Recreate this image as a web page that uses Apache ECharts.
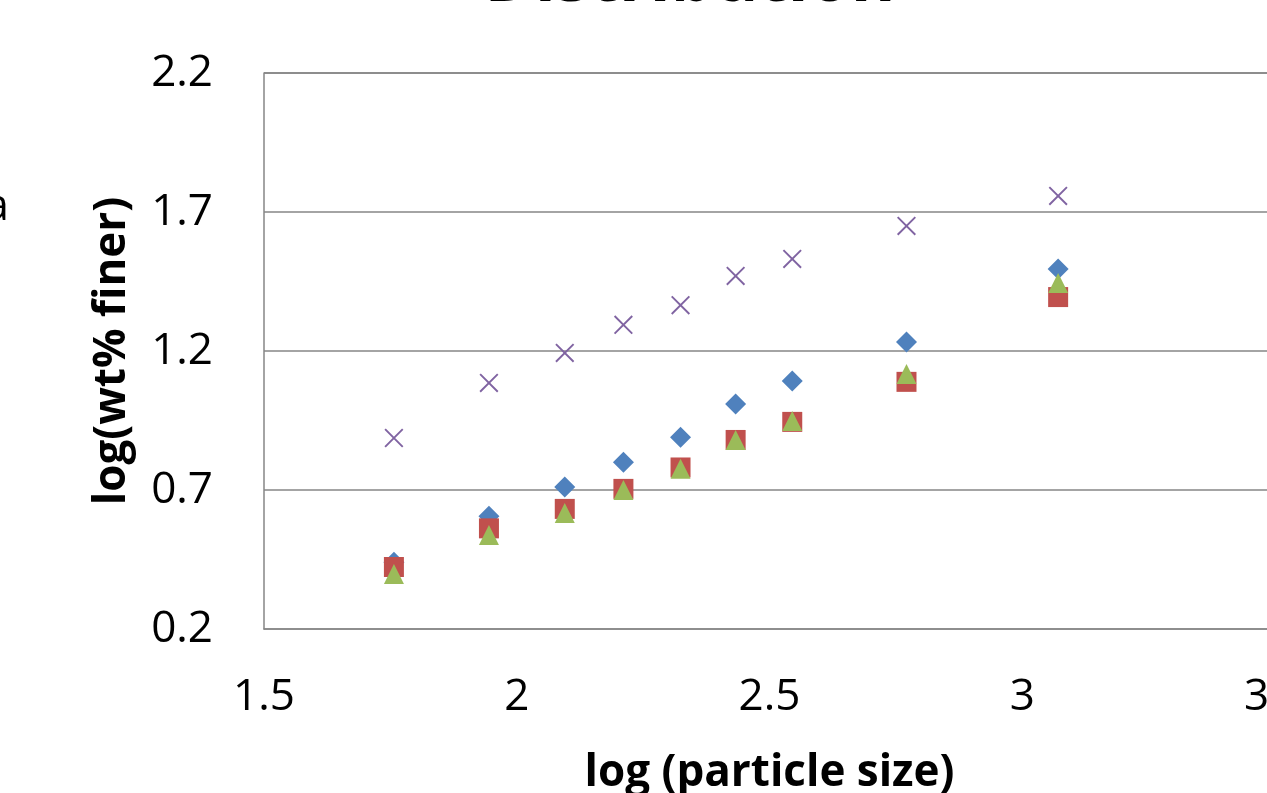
<!DOCTYPE html>
<html>
<head>
<meta charset="utf-8">
<script src="https://cdn.jsdelivr.net/npm/echarts@6/dist/echarts.min.js"></script>
<style>
html,body{margin:0;padding:0;background:#fff;}
#chart{width:1267px;height:793px;}
</style>
</head>
<body>
<div id="chart"></div>
<script>
// log (particle size)
var logSize = [1.757, 1.945, 2.095, 2.211, 2.324, 2.433, 2.545, 2.771, 3.071];
// log(wt% finer) for four series
var seriesBlue   = [0.440, 0.606, 0.711, 0.800, 0.890, 1.009, 1.092, 1.232, 1.495];
var seriesRed    = [0.423, 0.562, 0.632, 0.704, 0.781, 0.880, 0.945, 1.089, 1.394];
var seriesGreen  = [0.398, 0.538, 0.617, 0.700, 0.776, 0.880, 0.948, 1.117, 1.445];
var seriesPurple = [0.887, 1.085, 1.193, 1.294, 1.365, 1.470, 1.531, 1.650, 1.758];
var xTicks = [1.5, 2, 2.5, 3, 3.5];
var yTicks = [0.2, 0.7, 1.2, 1.7, 2.2];

function pairs(ys){ return logSize.map(function(x,i){ return [x, ys[i]]; }); }

var FONT = 'Open Sans';
var crossPath = 'path://M0,1L1,0L14,13L13,14Z M13,0L14,1L1,14L0,13Z';

var chart = echarts.init(document.getElementById('chart'));
chart.setOption({
  animation: false,
  backgroundColor: '#ffffff',
  textStyle: { fontFamily: FONT },
  graphic: [
    { type: 'text', x: 690, y: -52,
      style: { text: 'Distribution', fontFamily: FONT, fontSize: 68, fontWeight: 'bold', fill: '#000',
               align: 'center', verticalAlign: 'top' } },
    { type: 'text', x: 9, y: 207,
      style: { text: 'a', fontFamily: FONT, fontSize: 44, fill: '#000', align: 'right', verticalAlign: 'middle' } }
  ],
  grid: { left: 264, top: 73, width: 1011, height: 556, outerBoundsMode: 'none', containLabel: false },
  xAxis: {
    type: 'value',
    min: xTicks[0], max: xTicks[xTicks.length - 1], interval: xTicks[1] - xTicks[0],
    name: 'log (particle size)', nameLocation: 'middle', nameGap: 122,
    nameTextStyle: { fontFamily: FONT, fontSize: 44, fontWeight: 'bold', color: '#000' },
    axisLine: { show: true, lineStyle: { color: '#868686', width: 1.5 } },
    axisTick: { show: false },
    splitLine: { show: false },
    axisLabel: { fontFamily: FONT, fontSize: 44, color: '#000', margin: 46,
      formatter: function(v){ return String(+v.toFixed(1)); } }
  },
  yAxis: {
    type: 'value',
    min: yTicks[0], max: yTicks[yTicks.length - 1], interval: yTicks[1] - yTicks[0],
    name: 'log(wt% finer)', nameLocation: 'middle', nameGap: 130, nameRotate: 90,
    nameTextStyle: { fontFamily: FONT, fontSize: 44, fontWeight: 'bold', color: '#000' },
    axisLine: { show: true, lineStyle: { color: '#868686', width: 1.5 } },
    axisTick: { show: false },
    splitLine: { show: true, lineStyle: { color: '#868686', width: 1.5 } },
    axisLabel: { fontFamily: FONT, fontSize: 44, color: '#000', margin: 51,
      formatter: function(v){ return v.toFixed(1); } }
  },
  series: [
    { type: 'scatter', data: pairs(seriesBlue), symbol: 'diamond', symbolSize: 21,
      itemStyle: { color: '#4F81BD', opacity: 1 } },
    { type: 'scatter', data: pairs(seriesRed), symbol: 'rect', symbolSize: 20,
      itemStyle: { color: '#C0504D', opacity: 1 } },
    { type: 'scatter', data: pairs(seriesGreen), symbol: 'triangle', symbolSize: 20,
      itemStyle: { color: '#9BBB59', opacity: 1 } },
    { type: 'scatter', data: pairs(seriesPurple), symbol: crossPath, symbolSize: 19,
      itemStyle: { color: '#8064A2', opacity: 1 } }
  ]
});
</script>
</body>
</html>
